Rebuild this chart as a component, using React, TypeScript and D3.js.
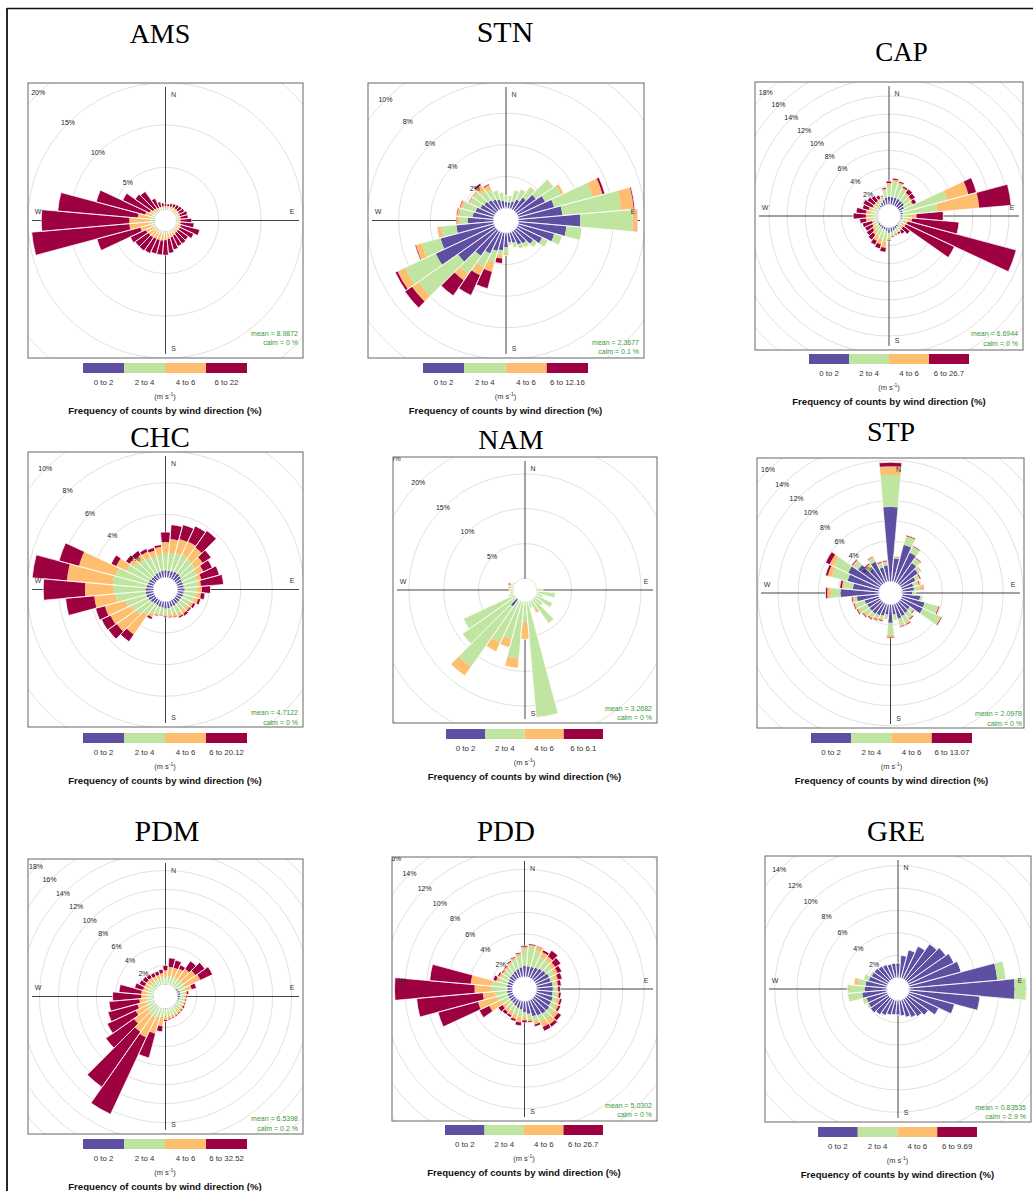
import React from "react";
import * as d3 from "d3";

// ---------------- data ----------------
const DIRECTIONS = [10, 20, 30, 40, 50, 60, 70, 80, 90, 100, 110, 120, 130, 140, 150, 160, 170, 180,
  190, 200, 210, 220, 230, 240, 250, 260, 270, 280, 290, 300, 310, 320, 330, 340, 350, 360];

const SPEED_COLOURS = ["#5E4FA2", "#BFE5A0", "#FDBE6F", "#9E0142"];

// AMS
const AMS_0_2 = [0.05,0.05,0.05,0.05,0.05,0.05,0.05,0.05,0.05,0.05,0.05,0.05,0.05,0.05,0.05,0.05,0.05,0.05,0.05,0.05,0.05,0.05,0.05,0.05,0.05,0.1,0.1,0.1,0.05,0.05,0.05,0.05,0.05,0.05,0.05,0.05];
const AMS_2_4 = [0.15,0.15,0.15,0.15,0.15,0.15,0.15,0.15,0.15,0.15,0.15,0.15,0.15,0.15,0.2,0.2,0.2,0.25,0.25,0.25,0.25,0.25,0.25,0.25,0.35,0.5,0.5,0.4,0.35,0.25,0.2,0.15,0.15,0.15,0.15,0.15];
const AMS_4_6 = [0.2,0.25,0.3,0.3,0.3,0.3,0.3,0.3,0.3,0.3,0.4,0.4,0.4,0.4,0.45,0.55,0.65,0.7,0.8,0.8,0.8,0.9,0.9,1.0,1.4,2.4,2.4,1.5,0.8,0.5,0.35,0.3,0.2,0.2,0.2,0.2];
const AMS_6P = [0.3,0.35,0.4,0.5,0.6,0.7,0.9,0.9,1.3,1.6,2.3,1.8,1.4,1.5,1.4,1.5,1.7,1.8,1.7,1.7,1.9,1.9,1.9,2.0,5.3,11.6,10.4,9.5,6.0,3.5,2.5,2.4,1.2,0.6,0.4,0.3];
// STN
const STN_0_2 = [0.37,0.47,0.69,1.0,1.53,1.95,2.37,2.79,3.91,3.05,2.37,1.74,1.32,1.0,0.9,0.69,0.58,0.9,1.11,1.21,1.53,1.95,2.92,4.13,3.51,2.37,1.63,1.32,1.21,1.0,0.9,0.79,0.69,0.58,0.47,0.37];
const STN_2_4 = [0.42,0.72,0.7,0.8,1.3,1.1,2.51,3.74,3.32,0.99,0.53,0.42,0.31,0.32,0.31,0.31,0.21,0.42,0.31,0.74,0.95,1.4,3.08,2.15,1.23,0.95,0.53,0.84,0.85,0.74,0.84,0.74,0.73,0.6,0.5,0.4];
const STN_4_6 = [0,0.02,0.03,0.05,0.07,0.21,0.66,0.8,0.28,0,0,0,0,0,0,0,0,0.1,0.21,0.63,0.57,0.5,0.49,0.52,0.38,0.24,0.15,0.16,0.16,0.08,0.08,0.42,0.28,0.03,0.03,0.02];
const STN_6P = [0,0,0,0,0,0,0.15,0.07,0.03,0,0,0,0,0,0,0,0,0,0.32,1.1,1.39,1.18,0.54,0.15,0.06,0.02,0.05,0.05,0.05,0.03,0.03,0.13,0.08,0,0,0];
// CAP
const CAP_0_2 = [0.85,0.85,0.85,0.8,0.8,0.6,0.3,0.3,0.2,0.2,0.1,0.1,0.1,0.2,0.3,0.4,0.5,0.6,0.4,0.3,0.3,0.2,0.2,0.1,0.1,0.1,0.1,0.1,0.1,0.1,0.1,0.2,0.4,0.6,0.8,0.85];
const CAP_2_4 = [1.75,1.55,1.15,0.9,0.8,0.9,5.14,3.82,0.8,0.6,0.4,0.4,0.3,0.4,0.4,0.4,0.4,0.6,1.2,1.1,0.9,0.6,0.4,0.4,0.3,0.7,0.7,0.7,0.6,0.4,0.4,0.3,0.3,0.3,0.8,1.35];
const CAP_4_6 = [0.2,0.2,0.2,0.2,0.2,0.2,2.4,4.64,0.8,0.5,0.4,0.3,0.3,0.2,0.1,0.1,0.1,0.2,0.7,0.6,0.6,0.5,0.4,0.3,0.3,0.5,0.5,0.5,0.4,0.3,0.3,0.3,0.2,0.1,0.15,0.2];
const CAP_6P = [0.15,0.15,0.2,0.5,0.5,0.4,0.92,3.53,2.94,5.21,12.4,5.93,0.9,0.4,0.2,0.1,0.1,0.1,0.45,0.5,0.5,0.7,0.8,0.9,1.1,0.7,1.4,1.1,0.7,1.1,0.9,0.7,0.4,0.1,0.15,0.2];
// CHC
const CHC_0_2 = [0.45,0.45,0.5,0.5,0.45,0.4,0.4,0.4,0.45,0.4,0.4,0.35,0.35,0.35,0.4,0.4,0.45,0.45,0.4,0.4,0.35,0.35,0.4,0.45,0.5,0.5,0.5,0.45,0.4,0.4,0.35,0.35,0.4,0.4,0.45,0.45];
const CHC_2_4 = [1.1,1.2,1.2,1.1,1.1,1.0,0.9,0.9,0.8,0.8,0.7,0.6,0.6,0.55,0.5,0.45,0.4,0.4,0.4,0.45,0.6,0.9,1.1,1.2,1.37,1.9,2.05,2.15,2.1,1.6,1.4,1.2,1.1,1.0,1.0,1.1];
const CHC_4_6 = [0.9,0.9,0.9,0.9,0.6,0.5,0.3,0.2,0.3,0.3,0.3,0.25,0.2,0.25,0.25,0.2,0.15,0.1,0.08,0.1,0.25,1.48,1.52,1.45,1.35,1.37,1.79,2.91,2.42,0.7,0.3,0.4,0.4,0.4,0.5,0.7];
const CHC_6P = [0.91,0.94,1.08,1.29,0.62,0.61,1.17,1.43,0.54,0.25,0.15,0.15,0.1,0.15,0.1,0.05,0.05,0.05,0.04,0.05,0.14,0.54,0.65,0.62,0.61,1.82,2.64,2.2,1.3,0.35,0.28,0.3,0.2,0.2,0.14,0.63];
// NAM
const NAM_0_2 = [0,0,0,0,0,0,0,0,0,0,0,0,0,0,0,0,0,0,0,0,0,1.2,0,0,0,0,0,0,0,0,0,0,0,0,0,0];
const NAM_2_4 = [0,0,0,0,0,0,0,0,0.9,2.7,1.0,2.7,1.5,4.2,1.6,1.0,16.7,3.0,8.2,5.6,6.7,10.6,9.3,8.1,0.8,0.5,0.4,0.4,0.45,0.3,0,0,0,0,0,0];
const NAM_4_6 = [0,0,0,0,0,0,0,0,0,0,0,0,0,0,0.4,0,0,2.4,1.4,1.3,1.4,1.6,0,0,0,0,0.2,0.3,0.25,0,0,0,0,0,0,0];
const NAM_6P = [0,0,0,0,0,0,0,0,0,0,0,0,0,0,0,0,0,0,0,0,0,0,0,0,0,0,0,0.05,0.15,0,0,0,0,0,0,0];
// STP
const STP_0_2 = [2.3,3.8,3.27,2.5,2.2,1.6,1.2,1.2,1.0,1.8,2.35,2.38,1.2,1.3,1.4,1.5,1.0,1.8,1.0,1.2,1.3,1.4,1.4,1.4,1.5,2.2,3.8,2.6,3.27,3.5,2.8,1.8,2.3,1.5,1.6,7.37];
const STP_2_4 = [0.05,0.8,0.63,0.5,0.3,0.4,0.4,0.6,0.3,0.2,1.35,1.92,0.4,0.6,0.7,0.7,0.5,1.2,0.4,0.3,0.3,0.4,0.6,0.9,0.9,0.3,0.99,0.9,1.59,1.62,0.6,0.4,0.4,0.4,0.3,3.2];
const STP_4_6 = [0.1,0.1,0.05,0.1,0.05,0.1,0.2,0.35,0.05,0.05,0.1,0.1,0.1,0.1,0.2,0.1,0.1,0.2,0.1,0.2,0.2,0.2,0.2,0.2,0.2,0.15,0.33,0.2,0.44,0.4,0.1,0.2,0.15,0.1,0.1,0.82];
const STP_6P = [0.05,0.09,0.08,0.08,0.05,0.1,0.1,0.05,0,0,0.1,0.1,0.1,0.1,0.1,0.08,0,0.1,0,0.1,0.1,0.1,0.1,0.1,0.1,0.1,0.17,0.2,0.23,0.44,0.1,0.1,0.05,0.1,0.1,0.4];
// PDM
const PDM_0_2 = [0.05,0.05,0.05,0.05,0.05,0.2,0.3,0.3,0.25,0.2,0.1,0.05,0.05,0.05,0.05,0.05,0.05,0.05,0.05,0.05,0.05,0.05,0.05,0.05,0.05,0.05,0.05,0.05,0.05,0.05,0.05,0.05,0.05,0.05,0.05,0.05];
const PDM_2_4 = [0.85,0.85,0.85,0.95,0.95,0.8,0.6,0.5,0.45,0.5,0.55,0.6,0.6,0.65,0.65,0.7,0.75,0.75,0.85,0.95,1.15,1.15,0.95,0.85,0.75,0.7,0.65,0.65,0.65,0.65,0.65,0.65,0.65,0.65,0.7,0.75];
const PDM_4_6 = [0.97,1.0,1.1,1.3,1.6,1.8,0.7,0.2,0.2,0.15,0.2,0.2,0.25,0.25,0.3,0.3,0.3,0.4,1.0,1.8,2.3,2.1,1.8,1.3,1.0,0.75,0.6,0.6,0.5,0.5,0.5,0.5,0.4,0.4,0.45,0.7];
const PDM_6P = [0.94,0.8,0.4,1.0,1.2,1.4,0.5,0.2,0.1,0.1,0.1,0.15,0.1,0.1,0.1,0.1,0.1,0.15,0.55,2.63,8.91,7.08,3.6,3.3,3.2,3.2,3.0,2.35,0.9,0.6,0.5,0.4,0.4,0.4,0.4,0.5];
// PDD
const PDD_0_2 = [1.0,1.0,1.1,1.2,1.3,1.4,1.4,1.5,1.5,1.5,1.6,1.6,1.7,1.7,1.6,1.5,1.2,1.0,0.8,0.7,0.6,0.5,0.5,0.5,0.5,0.5,0.42,0.5,0.5,0.5,0.6,0.6,0.7,0.8,0.9,1.0];
const PDD_2_4 = [1.9,1.6,1.1,1.0,0.7,0.5,0.4,0.3,0.4,0.4,0.4,0.5,0.6,0.6,0.6,0.5,0.5,0.5,0.7,0.7,0.6,0.6,0.5,0.8,1.0,1.1,1.55,1.4,0.8,0.7,0.6,0.7,0.8,0.9,1.1,1.6];
const PDD_4_6 = [0.1,0.4,0.5,0.4,0.4,0.4,0.3,0.2,0.1,0.2,0.3,0.3,0.4,0.6,0.6,0.3,0.2,0.3,0.5,0.4,0.4,0.4,0.4,1.2,1.86,1.17,1.55,1.99,0.3,0.3,0.2,0.2,0.2,0.2,0.2,0.2];
const PDD_6P = [0.1,0.05,0.2,0.66,0.6,0.4,0.4,0.3,0.2,0.2,0.2,0.2,0.36,0.3,0.4,0.2,0.1,0.2,0.3,0.2,0.2,0.3,0.48,1.02,3.84,6.17,7.44,3.83,0.3,0.15,0.1,0.1,0.1,0.1,0.1,0.1];
// GRE
const GRE_0_2 = [2.0,2.6,3.2,3.9,4.2,4.5,4.8,7.89,9.4,6.3,4.2,3.0,2.3,2.0,1.8,1.6,1.4,1.3,1.3,1.4,1.6,1.8,2.0,1.9,1.9,2.2,1.96,1.9,1.7,1.6,1.6,1.5,1.4,1.3,1.3,1.3];
const GRE_2_4 = [0,0,0,0,0,0,0.05,0.77,1.05,0.09,0.05,0,0,0,0,0,0,0,0,0,0,0,0,0.2,0.4,1.3,1.44,0.7,0.5,0.2,0,0,0,0,0,0];
const GRE_4_6 = [0,0,0,0,0,0,0,0,0,0,0,0,0,0,0,0,0,0,0,0,0,0,0,0,0,0,0.12,0.35,0,0,0,0,0,0,0,0];
const GRE_6P = [0,0,0,0,0,0,0,0,0,0,0,0,0,0,0,0,0,0,0,0,0,0,0,0,0,0,0,0,0,0,0,0,0,0,0,0];

const STATIONS = [
  { name: "AMS", bins: [AMS_0_2, AMS_2_4, AMS_4_6, AMS_6P], speeds: ["0 to 2", "2 to 4", "4 to 6", "6 to 22"], mean: "8.9872", calm: "0", step: 5 },
  { name: "STN", bins: [STN_0_2, STN_2_4, STN_4_6, STN_6P], speeds: ["0 to 2", "2 to 4", "4 to 6", "6 to 12.16"], mean: "2.3677", calm: "0.1", step: 2 },
  { name: "CAP", bins: [CAP_0_2, CAP_2_4, CAP_4_6, CAP_6P], speeds: ["0 to 2", "2 to 4", "4 to 6", "6 to 26.7"], mean: "6.6944", calm: "0", step: 2 },
  { name: "CHC", bins: [CHC_0_2, CHC_2_4, CHC_4_6, CHC_6P], speeds: ["0 to 2", "2 to 4", "4 to 6", "6 to 20.12"], mean: "4.7122", calm: "0", step: 2 },
  { name: "NAM", bins: [NAM_0_2, NAM_2_4, NAM_4_6, NAM_6P], speeds: ["0 to 2", "2 to 4", "4 to 6", "6 to 6.1"], mean: "3.2682", calm: "0", step: 5 },
  { name: "STP", bins: [STP_0_2, STP_2_4, STP_4_6, STP_6P], speeds: ["0 to 2", "2 to 4", "4 to 6", "6 to 13.07"], mean: "2.0978", calm: "0", step: 2 },
  { name: "PDM", bins: [PDM_0_2, PDM_2_4, PDM_4_6, PDM_6P], speeds: ["0 to 2", "2 to 4", "4 to 6", "6 to 32.52"], mean: "6.5398", calm: "0.2", step: 2 },
  { name: "PDD", bins: [PDD_0_2, PDD_2_4, PDD_4_6, PDD_6P], speeds: ["0 to 2", "2 to 4", "4 to 6", "6 to 26.7"], mean: "5.0302", calm: "0", step: 2 },
  { name: "GRE", bins: [GRE_0_2, GRE_2_4, GRE_4_6, GRE_6P], speeds: ["0 to 2", "2 to 4", "4 to 6", "6 to 9.69"], mean: "0.83535", calm: "2.9", step: 2 },
];

// ---------------- layout ----------------
const LAYOUT = {
  AMS: { box: [28, 83, 303, 358], hole: 11, k: 8.45, title: [160, 43, 28], legend: [83, 247, 363], stats: [298, 335.8, 345.2] },
  STN: { box: [368, 83, 644, 358], hole: 12.5, k: 15.8, title: [505, 42, 30], legend: [423, 588, 363], stats: [639, 344.8, 354.2] },
  CAP: { box: [755, 82, 1023, 350], hole: 11.4, k: 9.05, title: [901.5, 61, 27], legend: [809, 969, 354], stats: [1018, 336.2, 345.8] },
  CHC: { box: [28, 452, 303, 727], hole: 12, k: 15.8, title: [160, 446.5, 29], legend: [83, 247, 733], stats: [298, 714.8, 724.8] },
  NAM: { box: [393, 457, 657, 723], hole: 11.7, k: 6.96, title: [511, 449, 28], legend: [446, 603, 729], stats: [652, 710.8, 720.2] },
  STP: { box: [757, 458, 1024, 728], hole: 11.6, k: 10.1, title: [891, 440.5, 28], legend: [811, 972, 733], stats: [1022, 715.8, 725.8] },
  PDM: { box: [28, 859, 303, 1134], hole: 12.1, k: 9.5, title: [167, 840.5, 30], legend: [83, 247, 1139], stats: [298, 1120.8, 1130.8] },
  PDD: { box: [392, 857, 657, 1121], hole: 12.2, k: 10.75, title: [506, 840.5, 29], legend: [445, 603, 1125], stats: [652, 1107.5, 1116.8] },
  GRE: { box: [765, 856, 1031, 1122], hole: 11.3, k: 11.2, title: [896, 840.5, 29], legend: [818, 977, 1127], stats: [1026, 1109.8, 1119.2] },
};

const SANS = "'Liberation Sans', Arial, Helvetica, sans-serif";
const SERIF = "'Liberation Serif', 'Times New Roman', serif";

function Rose({ st }) {
  const lay = LAYOUT[st.name];
  const [x0, y0, x1, y1] = lay.box;
  const cx = (x0 + x1) / 2;
  const cy = (y0 + y1) / 2;
  const corner = Math.hypot(x1 - x0, y1 - y0) / 2;
  const maxPct = (corner + 30 - lay.hole) / lay.k;
  const r = d3.scaleLinear().domain([0, maxPct]).range([lay.hole, lay.hole + lay.k * maxPct]);
  const ticks = d3.range(st.step, maxPct, st.step);

  const keys = ["s0", "s1", "s2", "s3"];
  const rows = DIRECTIONS.map((dir, i) => ({
    dir,
    s0: st.bins[0][i],
    s1: st.bins[1][i],
    s2: st.bins[2][i],
    s3: st.bins[3][i],
  }));
  const stacked = d3.stack().keys(keys)(rows);
  const arc = d3.arc();
  const halfW = (5 * Math.PI) / 180;
  const clipId = `clip-${st.name}`;
  const inset = 4;
  const d45 = Math.SQRT1_2;

  const [lx0, lx1, ly] = lay.legend;
  const segW = (lx1 - lx0) / 4;
  const lcx = (lx0 + lx1) / 2;

  return (
    <g>
      <defs>
        <clipPath id={clipId}>
          <rect x={x0} y={y0} width={x1 - x0} height={y1 - y0} />
        </clipPath>
      </defs>
      <text x={lay.title[0]} y={lay.title[1]} fontSize={lay.title[2]} textAnchor="middle" fontFamily={SERIF} fill="#000">
        {st.name}
      </text>
      <rect x={x0} y={y0} width={x1 - x0} height={y1 - y0} fill="#fff" />
      <g clipPath={`url(#${clipId})`}>
        <circle cx={cx} cy={cy} r={r(0)} fill="none" stroke="#dcdcdc" strokeWidth={0.9} />
        {ticks.map((t) => (
          <circle key={t} cx={cx} cy={cy} r={r(t)} fill="none" stroke="#dcdcdc" strokeWidth={0.9} />
        ))}
        <line x1={cx} y1={y0 + inset} x2={cx} y2={y1 - inset} stroke="#444" strokeWidth={1} />
        <line x1={x0 + inset} y1={cy} x2={x1 - inset} y2={cy} stroke="#444" strokeWidth={1} />
        <circle cx={cx} cy={cy} r={r(0) - 0.5} fill="#fff" />
        <g transform={`translate(${cx},${cy})`}>
          {stacked.map((layer, li) =>
            layer.map((seg, i) => {
              if (seg[1] - seg[0] <= 0) return null;
              const a = (seg.data.dir * Math.PI) / 180;
              return (
                <path
                  key={`${li}-${i}`}
                  d={arc({ innerRadius: r(seg[0]), outerRadius: r(seg[1]), startAngle: a - halfW, endAngle: a + halfW })}
                  fill={SPEED_COLOURS[li]}
                />
              );
            })
          )}
          {rows.map((row, i) => {
            const total = stacked[3][i][1];
            if (total <= 0) return null;
            const a = (row.dir * Math.PI) / 180;
            return (
              <path
                key={`o-${i}`}
                d={arc({ innerRadius: r(0), outerRadius: r(total), startAngle: a - halfW, endAngle: a + halfW })}
                fill="none"
                stroke="#fff"
                strokeWidth={0.7}
              />
            );
          })}
        </g>
        {ticks.map((t) => (
          <text
            key={`l${t}`}
            x={cx - r(t) * d45}
            y={cy - r(t) * d45}
            fontSize={7}
            fontFamily={SANS}
            textAnchor="middle"
            dominantBaseline="middle"
            fill="#222"
          >
            {`${t}%`}
          </text>
        ))}
        <text x={cx + 8} y={y0 + 12} fontSize={7} fontFamily={SANS} textAnchor="middle" dominantBaseline="middle" fill="#333">N</text>
        <text x={cx + 8} y={y1 - 9} fontSize={7} fontFamily={SANS} textAnchor="middle" dominantBaseline="middle" fill="#333">S</text>
        <text x={x1 - 11} y={cy - 8} fontSize={7} fontFamily={SANS} textAnchor="middle" dominantBaseline="middle" fill="#333">E</text>
        <text x={x0 + 10} y={cy - 8} fontSize={7} fontFamily={SANS} textAnchor="middle" dominantBaseline="middle" fill="#333">W</text>
        <text x={lay.stats[0]} y={lay.stats[1]} fontSize={7} fontFamily={SANS} textAnchor="end" fill="#3a9a3a">
          {`mean = ${st.mean}`}
        </text>
        <text x={lay.stats[0]} y={lay.stats[2]} fontSize={7} fontFamily={SANS} textAnchor="end" fill="#3a9a3a">
          {`calm = ${st.calm} %`}
        </text>
      </g>
      <rect x={x0} y={y0} width={x1 - x0} height={y1 - y0} fill="none" stroke="#666" strokeWidth={1} />

      {SPEED_COLOURS.map((c, i) => (
        <rect key={c} x={lx0 + i * segW} y={ly} width={segW} height={10} fill={c} />
      ))}
      {st.speeds.map((s, i) => (
        <text key={s} x={lx0 + (i + 0.5) * segW} y={ly + 22} fontSize={7.8} fontFamily={SANS} textAnchor="middle" fill="#333">
          {s}
        </text>
      ))}
      <text x={lcx} y={ly + 36} fontSize={7.5} fontFamily={SANS} textAnchor="middle" fill="#333">
        (m s<tspan dy={-3} fontSize={5}>-1</tspan>
        <tspan dy={3}>)</tspan>
      </text>
      <text x={lcx} y={ly + 51} fontSize={9.6} fontWeight="bold" fontFamily={SANS} textAnchor="middle" fill="#111">
        Frequency of counts by wind direction (%)
      </text>
    </g>
  );
}

export default function App() {
  return (
    <svg
      width={1033}
      height={1191}
      viewBox="0 0 1033 1191"
      style={{ position: "absolute", left: 0, top: 0, display: "block", background: "#fff" }}
    >
      <rect x={0} y={0} width={1033} height={1191} fill="#fff" />
      <line x1={7} y1={8.5} x2={1033} y2={8.5} stroke="#111" strokeWidth={1.6} />
      <line x1={7} y1={8} x2={7} y2={1191} stroke="#111" strokeWidth={1.8} />
      {STATIONS.map((st) => (
        <Rose key={st.name} st={st} />
      ))}
    </svg>
  );
}
